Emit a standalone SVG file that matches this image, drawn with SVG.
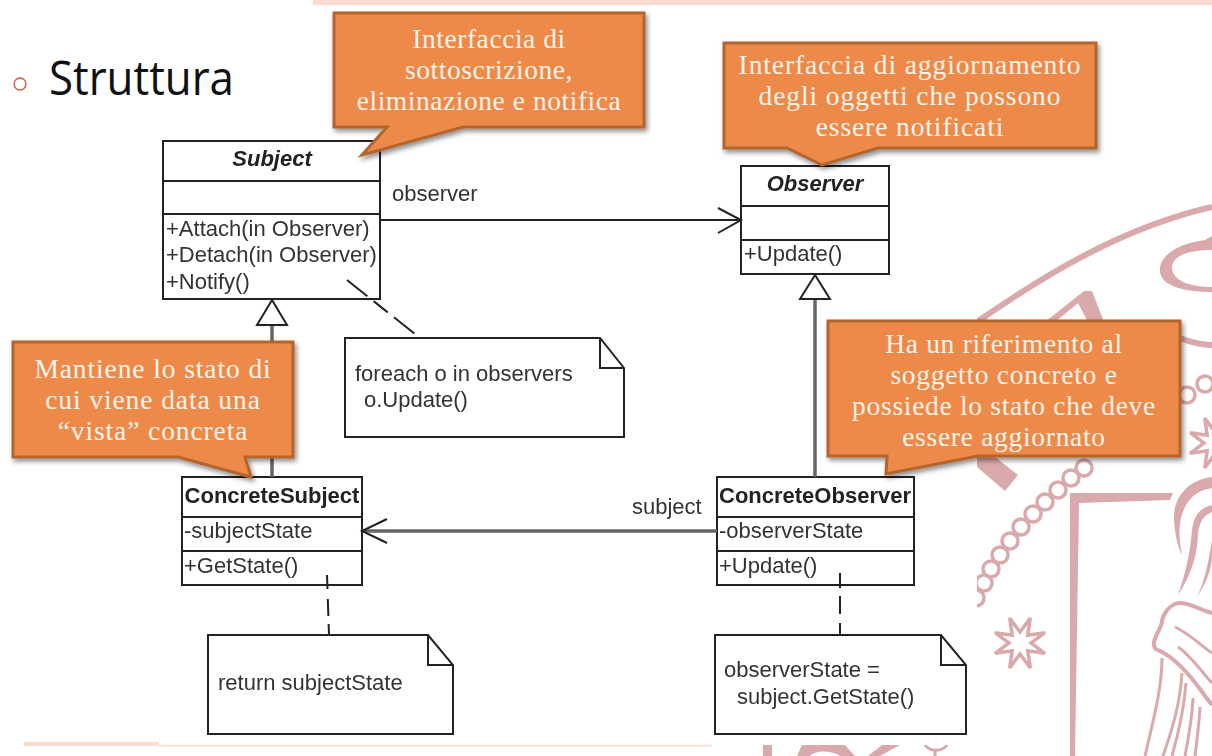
<svg xmlns="http://www.w3.org/2000/svg" width="1212" height="756" viewBox="0 0 1212 756">
<defs>
<filter id="soft" x="-5%" y="-5%" width="110%" height="110%"><feGaussianBlur stdDeviation="0.55"/></filter>
<filter id="shadow" x="-10%" y="-10%" width="125%" height="130%"><feDropShadow dx="2" dy="3" stdDeviation="2.5" flood-color="#000" flood-opacity="0.45"/></filter>
<clipPath id="sealclip"><path d="M977 0H1212V756H712V745H977Z"/></clipPath>
<polygon id="star" points="0,-11 10.3,-24.9 7.8,-7.8 24.9,-10.3 11,0 24.9,10.3 7.8,7.8 10.3,24.9 0,11 -10.3,24.9 -7.8,7.8 -24.9,10.3 -11,0 -24.9,-10.3 -7.8,-7.8 -10.3,-24.9"/>
</defs>
<style>
.seal{fill:none;stroke:#D9A9AC;stroke-width:6}
.thin{stroke-width:3}
.bead{stroke-width:3.5}
.sf{fill:#D9A9AC;stroke:none}
.st{fill:#fff;stroke:#D9A9AC;stroke-width:3.5;stroke-linejoin:miter}
.call{fill:#ED8A48;stroke:#B3652F;stroke-width:3;stroke-linejoin:miter;filter:url(#shadow)}
.ct{font-family:"Liberation Serif",serif;font-size:27.5px;fill:#FDF3EA;text-anchor:middle;letter-spacing:.9px}
.ct1{letter-spacing:.55px}
.ct2{letter-spacing:.7px}
.box{fill:#fff;stroke:#222;stroke-width:2}
.ln{fill:none;stroke:#222;stroke-width:2}
.gray{fill:none;stroke:#666;stroke-width:3.5}
.dash{fill:none;stroke:#222;stroke-width:2}
.t{font-family:"Liberation Sans",Arial,sans-serif;font-size:22px;fill:#333}
.b{font-weight:bold;fill:#222;text-anchor:middle}
.i{font-weight:bold;font-style:italic;fill:#222;text-anchor:middle}
</style>
<rect width="1212" height="756" fill="#fff"/>
<g id="seal" clip-path="url(#sealclip)">
<path class="seal" d="M977 322C1040 278 1120 228 1212 207"/>
<path class="sf" d="M1212 236L1205 240C1180 243 1158 255 1160 272C1162 288 1190 292 1212 292V287C1195 287 1173 283 1172 268C1172 255 1190 250 1212 250Z"/>
<path class="seal" d="M1180 338C1195 344 1205 345 1212 345"/>
<polygon class="sf" points="1045,322 1084,291 1092,291 1104,322 1088,322 1078,303 1055,322"/>
<polygon class="sf" points="977,457 995,457 1018,475 1005,491 977,467"/>
<g class="seal bead">
<circle cx="976" cy="598" r="8"/><circle cx="984" cy="583" r="8"/><circle cx="991" cy="569" r="8"/><circle cx="1000" cy="555" r="8"/><circle cx="1010" cy="541" r="8"/><circle cx="1021" cy="527" r="8"/><circle cx="1033" cy="514" r="8"/><circle cx="1045" cy="502" r="8"/><circle cx="1058" cy="490" r="8"/><circle cx="1071" cy="478" r="8"/><circle cx="1084" cy="468" r="8"/><circle cx="1187" cy="395" r="8"/><circle cx="1205" cy="384" r="8"/>
</g>
<use href="#star" class="st" x="1020" y="643"/>
<use href="#star" class="st" x="1215" y="443"/>
<polygon class="sf" points="1070,493 1173,493 1170,500 1079,503 1075,756 1070,756"/>
<path class="sf" d="M1212 477C1190 480 1173 495 1174 520C1175 535 1178 548 1182 555C1178 535 1178 520 1186 505C1192 495 1200 490 1212 488Z"/>
<path class="sf" d="M1212 505C1200 508 1194 515 1192 530C1190 555 1185 575 1178 595C1188 580 1197 560 1198 535C1199 520 1205 515 1212 512Z"/>
<path class="sf" d="M1212 540C1208 565 1205 580 1197 597C1205 585 1212 570 1212 555Z"/>
<path class="seal" style="stroke-width:4" d="M1212 613C1200 610 1185 600 1175 604C1166 608 1162 618 1162 622C1160 630 1155 636 1154 642C1153 648 1156 650 1160 651C1175 658 1190 675 1203 693C1206 698 1210 702 1212 705"/>
<path class="seal thin" d="M1175 627C1190 634 1200 645 1212 653M1178 647C1190 655 1202 672 1212 683M1162 658C1162 690 1152 725 1145 756M1182 673C1180 705 1172 730 1163 756M1186 683C1184 710 1178 735 1172 756M1193 698C1192 720 1188 740 1185 756M1200 707C1199 725 1197 740 1195 756"/>
<rect class="sf" x="763" y="745" width="9" height="11"/>
<path class="sf" d="M797 756L802 745H845L855 756H840C832 750 815 750 810 756Z"/>
<polygon class="sf" points="882,745 900,745 880,756 868,756"/>
<path class="seal thin" d="M925 745C930 752 942 752 947 745M935 751V756"/>
</g>
<g id="bars">
<rect x="313" y="0" width="899" height="5" fill="#FADCD2"/>
<rect x="24" y="742" width="135" height="4" fill="#FADCD2"/>
<rect x="159" y="745" width="553" height="1.5" fill="#FADCD2"/>
</g>
<g id="title">
<circle cx="20" cy="84" r="6" fill="none" stroke="#D9573A" stroke-width="1.3"/>
<text x="49" y="95" font-family="'Open Sans','Noto Sans',sans-serif" font-size="47px" fill="#111" textLength="185" lengthAdjust="spacingAndGlyphs">Struttura</text>
</g>
<g id="subject" filter="url(#soft)">
<rect class="box" x="163" y="141" width="217" height="158"/>
<path class="ln" d="M163 181H380M163 214H380"/>
<text class="t i" x="272" y="166">Subject</text>
<text class="t" x="166" y="236">+Attach(in Observer)</text>
<text class="t" x="166" y="262">+Detach(in Observer)</text>
<text class="t" x="166" y="289">+Notify()</text>
</g>
<g id="observer" filter="url(#soft)">
<rect class="box" x="741" y="166" width="148" height="108"/>
<path class="ln" d="M741 206H889M741 240H889"/>
<text class="t i" x="815" y="191">Observer</text>
<text class="t" x="744" y="261">+Update()</text>
</g>
<g id="concrete-subject" filter="url(#soft)">
<rect class="box" x="182" y="477" width="180" height="108"/>
<path class="ln" d="M182 517H362M182 551H362"/>
<text class="t b" x="272" y="503">ConcreteSubject</text>
<text class="t" x="184" y="538">-subjectState</text>
<text class="t" x="184" y="573">+GetState()</text>
</g>
<g id="concrete-observer" filter="url(#soft)">
<rect class="box" x="717" y="477" width="197" height="108"/>
<path class="ln" d="M717 517H914M717 551H914"/>
<text class="t b" x="815" y="503">ConcreteObserver</text>
<text class="t" x="719" y="538">-observerState</text>
<text class="t" x="719" y="573">+Update()</text>
</g>
<g id="note-notify" filter="url(#soft)">
<path class="box" d="M345 338H600L624 368V437H345ZM600 338V368H624"/>
<text class="t" x="355" y="381">foreach o in observers</text>
<text class="t" x="364" y="407">o.Update()</text>
</g>
<g id="note-state" filter="url(#soft)">
<path class="box" d="M208 635H428L453 665V734H208ZM428 635V665H453"/>
<text class="t" x="218" y="690">return subjectState</text>
</g>
<g id="note-update" filter="url(#soft)">
<path class="box" d="M715 635H941L966 665V734H715ZM941 635V665H966"/>
<text class="t" x="724" y="677">observerState =</text>
<text class="t" x="737" y="704">subject.GetState()</text>
</g>
<g id="connectors" filter="url(#soft)">
<path class="ln" d="M380 220H741M718 208L741 220L718 233"/>
<path class="gray" d="M272 325V477M815 299V477M717 531H362"/>
<path class="ln" d="M387 519L362 531L387 543"/>
<path class="ln" d="M272 300L257 325H287Z"/>
<path class="ln" d="M815 275L800 299H830Z"/>
<path class="dash" stroke-dasharray="26 8 18 8" d="M347 280L420 338"/>
<path class="dash" stroke-dasharray="14 10 17 8" d="M327 575L329 635"/>
<path class="dash" stroke-dasharray="15 8 18 9" d="M840 573V635"/>
</g>
<g id="labels" filter="url(#soft)">
<text class="t" x="392" y="201">observer</text>
<text class="t" x="632" y="514">subject</text>
</g>
<g id="callout-subject">
<path class="call" d="M334 13H644V127H463L362 155L387 127H334Z"/>
<text class="ct ct1" x="489" y="48">Interfaccia di</text>
<text class="ct ct1" x="489" y="79">sottoscrizione,</text>
<text class="ct ct1" x="489" y="110">eliminazione e notifica</text>
</g>
<g id="callout-observer">
<path class="call" d="M724 43H1096V148H878L822 165L787 148H724Z"/>
<text class="ct" x="910" y="74">Interfaccia di aggiornamento</text>
<text class="ct" x="910" y="105">degli oggetti che possono</text>
<text class="ct" x="910" y="136">essere notificati</text>
</g>
<g id="callout-concrete-observer">
<path class="call" d="M828 321H1180V456H978L886 474L887 456H828Z"/>
<text class="ct ct2" x="1004" y="353">Ha un riferimento al</text>
<text class="ct ct2" x="1004" y="384">soggetto concreto e</text>
<text class="ct ct2" x="1004" y="415">possiede lo stato che deve</text>
<text class="ct ct2" x="1004" y="446">essere aggiornato</text>
</g>
<g id="callout-concrete-subject">
<path class="call" d="M13 342H293V457H245L251 477L178 457H13Z"/>
<text class="ct" x="153" y="378">Mantiene lo stato di</text>
<text class="ct" x="153" y="409">cui viene data una</text>
<text class="ct" x="153" y="440">“vista” concreta</text>
</g>
</svg>
